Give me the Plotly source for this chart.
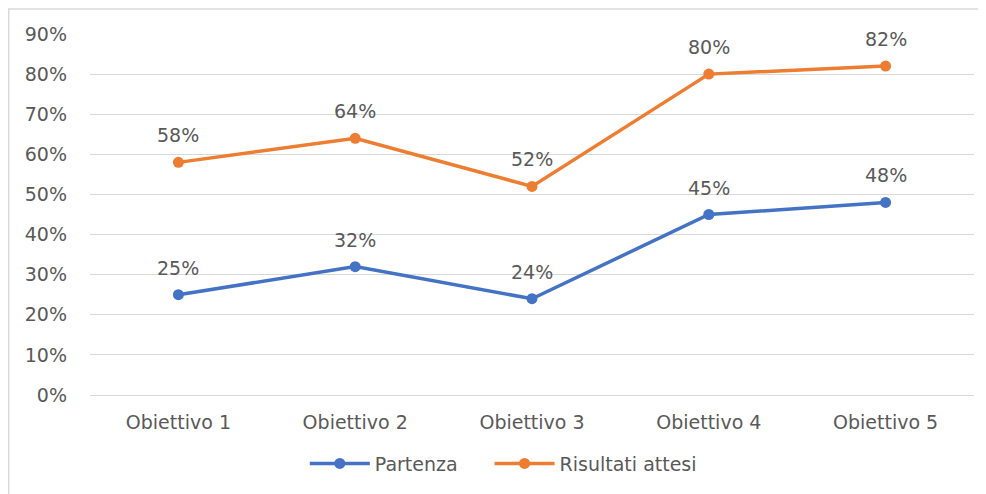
import plotly.graph_objects as go

categories = ["Obiettivo 1", "Obiettivo 2", "Obiettivo 3", "Obiettivo 4", "Obiettivo 5"]
partenza = [0.25, 0.32, 0.24, 0.45, 0.48]
risultati = [0.58, 0.64, 0.52, 0.80, 0.82]
y_ticks = [0, 0.1, 0.2, 0.3, 0.4, 0.5, 0.6, 0.7, 0.8, 0.9]

BLUE = "#4472C4"
ORANGE = "#ED7D31"
TXT = "#595959"
FONT = "DejaVu Sans"

fig = go.Figure()
for name, vals, col, lg in [("Partenza", partenza, BLUE, "legend"),
                            ("Risultati attesi", risultati, ORANGE, "legend2")]:
    fig.add_trace(go.Scatter(
        x=categories, y=vals, name=name, mode="lines+markers", legend=lg,
        line=dict(color=col, width=3.5), marker=dict(color=col, size=11),
    ))
    for c, v in zip(categories, vals):
        fig.add_annotation(x=c, y=v, text=f"{round(v*100)}%", showarrow=False,
                           yanchor="bottom", yshift=14,
                           font=dict(family=FONT, size=19, color=TXT))

fig.add_shape(type="rect", xref="paper", yref="paper",
              x0=-0.092, x1=1.05, y0=-0.35, y1=1.069,
              line=dict(color="#D9D9D9", width=1.5), layer="below")

leg_common = dict(orientation="h", xanchor="left", y=-0.19, yanchor="middle",
                  font=dict(family=FONT, size=19, color=TXT), itemwidth=60,
                  bgcolor="rgba(0,0,0,0)")

fig.update_layout(
    width=978, height=486,
    margin=dict(l=82, r=12, t=26, b=99),
    plot_bgcolor="white", paper_bgcolor="white",
    font=dict(family=FONT, size=19, color=TXT),
    showlegend=True,
    legend=dict(x=0.243, **leg_common),
    legend2=dict(x=0.452, **leg_common),
    xaxis=dict(showgrid=False, showline=False, ticks="", tickfont=dict(size=19, color=TXT),
               range=[-0.5, 4.5], automargin=False, ticklabelstandoff=14),
    yaxis=dict(range=[0, 0.9], tickvals=y_ticks, tickformat=".0%",
               gridcolor="#D9D9D9", gridwidth=1, zeroline=True, zerolinecolor="#D9D9D9",
               zerolinewidth=1, showline=False, ticks="", ticklabelstandoff=22,
               automargin=False, tickfont=dict(size=19, color=TXT)),
)

fig.write_html("out.html")
